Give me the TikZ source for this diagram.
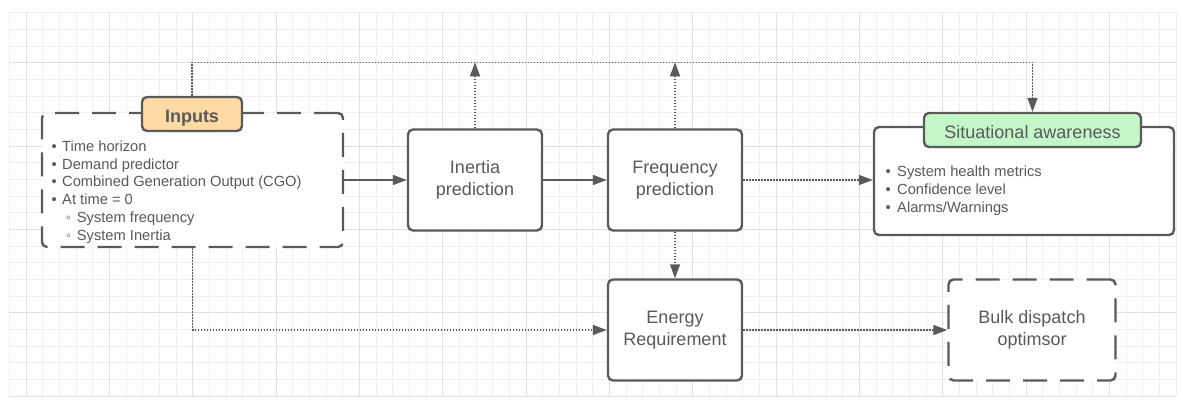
\documentclass[tikz,border=0pt]{standalone}
\usepackage{fontspec}
\setmainfont{Liberation Sans}
\usetikzlibrary{arrows.meta}
\definecolor{ln}{HTML}{5A5A5A}
\definecolor{tx}{HTML}{595959}
\definecolor{orangefill}{HTML}{FFDBA3}
\definecolor{greenfill}{HTML}{C3F7C8}
\definecolor{gridminor}{HTML}{EFEFEF}
\definecolor{gridmajor}{HTML}{E0E0E0}
\newcommand\mybul{\makebox[0pt][c]{•}\hspace{8pt}}
\newcommand\mysabul{\makebox[0pt][c]{•}\hspace{9pt}}
\newcommand\mysubbul{\hspace{14.3pt}\makebox[0pt][c]{◦}\hspace{8.4pt}}
\begin{document}
\begin{tikzpicture}[x=1pt,y=-1pt,
  box/.style={draw=ln, line width=2.4pt, rounded corners=5pt, fill=white, inner sep=0pt,
    text=tx, align=center, font=\fontsize{18}{21.7}\selectfont},
  dashbox/.style={box, dash pattern=on 24pt off 13pt},
  titlebox/.style={box, minimum height=34pt, text height=16.6pt, text depth=0pt},
  flow/.style={draw=ln, line width=1.4pt, -{Triangle[length=14pt,width=10pt]}},
  dotflow/.style={flow, dash pattern=on 1.4pt off 1.6pt},
  item/.style={anchor=base west, inner sep=0pt, text=tx, font=\fontsize{14.7}{17.8}\selectfont}
]
\useasboundingbox[fill=white] (0,0) rectangle (1183,406);
% grid
\foreach \i in {0,...,70} {
  \draw[gridminor, line width=0.8pt] ({9.33+\i*16.667},12.67) -- ({9.33+\i*16.667},396);
}
\foreach \j in {0,...,23} {
  \draw[gridminor, line width=0.8pt] (9.33,{12.67+\j*16.667}) -- (1176,{12.67+\j*16.667});
}
\foreach \i in {0,...,13} {
  \draw[gridmajor, line width=0.9pt] ({26+\i*83.333},12.67) -- ({26+\i*83.333},396);
}
\foreach \j in {0,...,4} {
  \draw[gridmajor, line width=0.9pt] (9.33,{62.67+\j*83.333}) -- (1176,{62.67+\j*83.333});
}
% nodes
\node[dashbox, minimum width=301pt, minimum height=134pt] (inbox) at (192.5,180) {};
\node[titlebox, fill=orangefill, minimum width=100pt, font=\fontsize{18}{21.7}\selectfont\bfseries] (intitle) at (192,114) {Inputs};
\node[item] (i1) at (54,151.3) {\mybul Time horizon};
\node[item] (i2) at (54,169.1) {\mybul Demand predictor};
\node[item] (i3) at (54,186.9) {\mybul Combined Generation Output (CGO)};
\node[item] (i4) at (54,204.7) {\mybul At time = 0};
\node[item] (i5) at (54,222.5) {\mysubbul System frequency};
\node[item] (i6) at (54,240.3) {\mysubbul System Inertia};

\node[box, minimum width=134pt, minimum height=101pt] (inertia) at (475,180) {Inertia\\prediction};
\node[box, minimum width=134pt, minimum height=101pt] (freq) at (675,180) {Frequency\\prediction};
\node[box, minimum width=134pt, minimum height=101pt] (energy) at (675,330) {Energy\\Requirement};
\node[dashbox, minimum width=167pt, minimum height=101pt] (bulk) at (1032,330) {Bulk dispatch\\optimsor};

\node[box, minimum width=300pt, minimum height=108pt] (sa) at (1024,181) {};
\node[titlebox, fill=greenfill, minimum width=217pt] (satitle) at (1032.5,130) {Situational awareness};
\node[item] (s1) at (888,176.3) {\mysabul System health metrics};
\node[item] (s2) at (888,194.3) {\mysabul Confidence level};
\node[item] (s3) at (888,212.3) {\mysabul Alarms/Warnings};

% connectors
\coordinate (top) at (600,62.3);
\draw[flow] (inbox.east) -- (inertia.west);
\draw[flow] (inertia.east) -- (freq.west);
\draw[dotflow] (freq.east) -- (freq.east -| sa.west);
\draw[dotflow] (freq.south) -- (energy.north);
\draw[dotflow] (energy.east) -- (bulk.west);
\draw[dotflow] (inbox.south) |- (energy.west);
\draw[dotflow] (inertia.north) -- (inertia.north |- top);
\draw[dotflow] (freq.north) -- (freq.north |- top);
\draw[dotflow] (intitle.north) |- (top) -| (satitle.north);
\end{tikzpicture}
\end{document}
